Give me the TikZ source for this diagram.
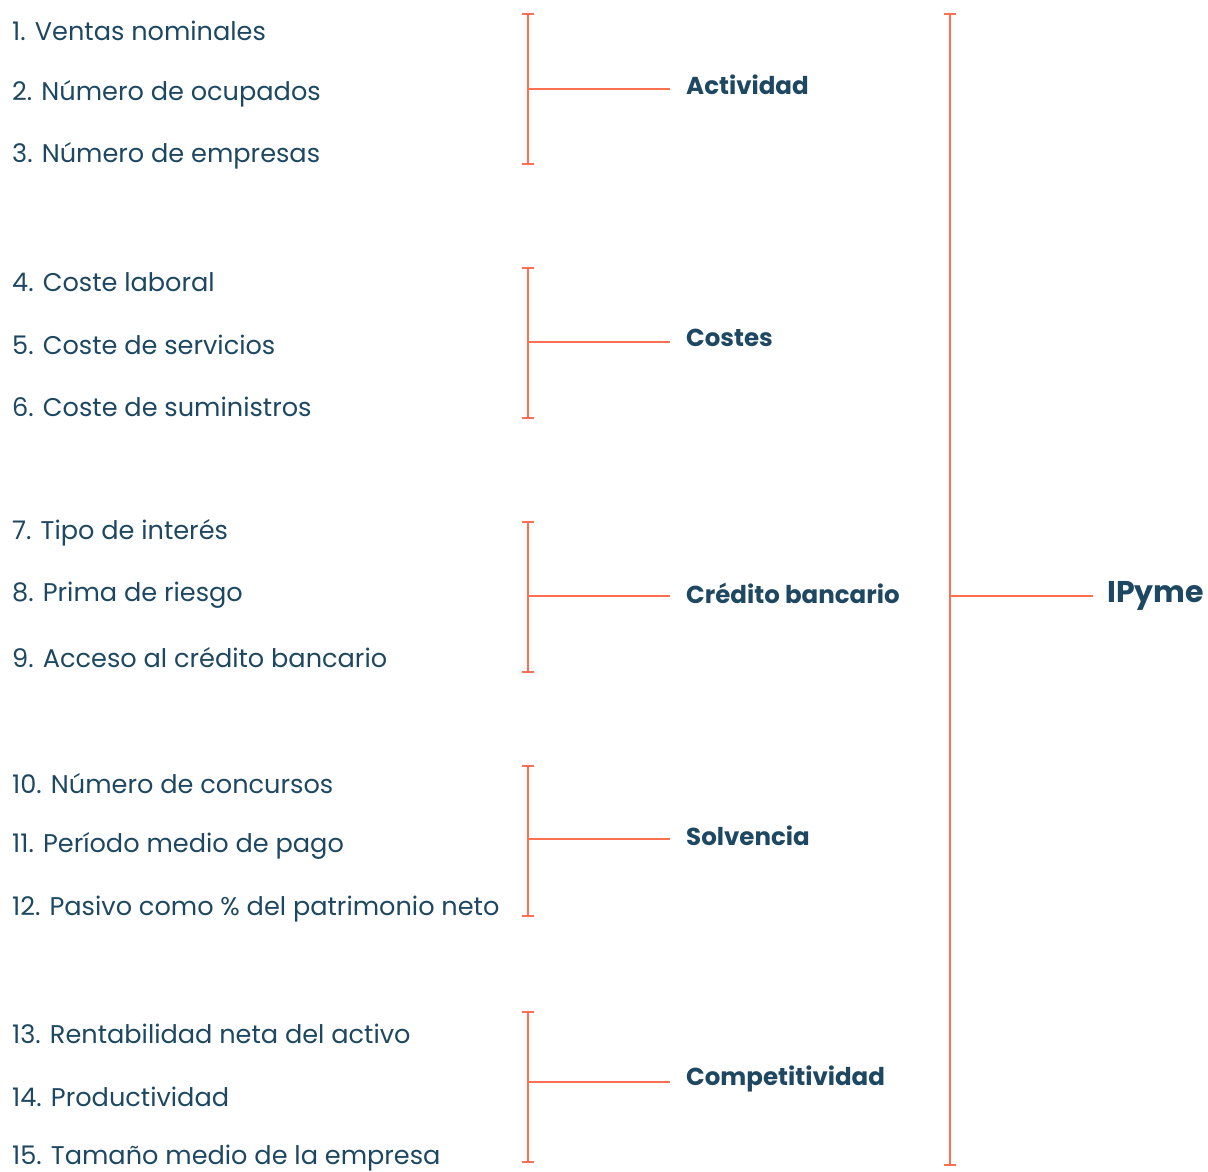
\documentclass[tikz,border=0pt]{standalone}
\usepackage{fontspec}
\setmainfont{Poppins}
\definecolor{orng}{HTML}{FF7052}
\definecolor{navy}{HTML}{1E4862}
\begin{document}
\begin{tikzpicture}[x=1pt,y=-1pt,
  item/.style={anchor=west,inner sep=0pt,text=navy,font=\fontsize{25.6}{30}\selectfont,yshift=-2pt},
  grp/.style={anchor=west,inner sep=0pt,text=navy,font=\fontsize{24.5}{28}\selectfont\bfseries},
  topl/.style={anchor=west,inner sep=0pt,text=navy,font=\fontsize{30}{34}\selectfont\bfseries,yshift=-2pt},
  brk/.style={draw=orng,line width=2.8pt},
  endbar/.style={draw=orng,line width=2.4pt}]
\useasboundingbox (0,0) rectangle (1208,1171);
% items
\node[item] (i1) at (12,29) {1. Ventas nominales};
\node[item] (i2) at (12,92) {2. Número de ocupados};
\node[item] (i3) at (12,154) {3. Número de empresas};
\node[item] (i4) at (12,280) {4. Coste laboral};
\node[item] (i5) at (12,343) {5. Coste de servicios};
\node[item] (i6) at (12,405) {6. Coste de suministros};
\node[item] (i7) at (12,531) {7. Tipo de interés};
\node[item] (i8) at (12,593) {8. Prima de riesgo};
\node[item] (i9) at (12,656) {9. Acceso al crédito bancario};
\node[item] (i10) at (12,782) {10. Número de concursos};
\node[item] (i11) at (12,844) {11. Período medio de pago};
\node[item] (i12) at (12,907) {12. Pasivo como \% del patrimonio neto};
\node[item] (i13) at (12,1032) {13. Rentabilidad neta del activo};
\node[item] (i14) at (12,1095) {14. Productividad};
\node[item] (i15) at (12,1156) {15. Tamaño medio de la empresa};
% group labels
\node[grp] (g1) at (686,85) {Actividad};
\node[grp] (g2) at (686,338) {Costes};
\node[grp] (g3) at (686,593) {Crédito bancario};
\node[grp] (g4) at (686,836) {Solvencia};
\node[grp] (g5) at (686,1079) {Competitividad};
\node[topl] (ip) at (1107,594) {IPyme};
% group brackets
\foreach \t/\b/\m/\g in {14/164/89/g1, 268/418/342/g2, 522/672/596/g3, 766/916/839/g4, 1012/1162/1082/g5}{
  \coordinate (t\g) at (528,\t);
  \coordinate (b\g) at (528,\b);
  \coordinate (m\g) at (528,\m);
  \coordinate (e\g) at (670,\m);
  \draw[brk] (t\g) -- (b\g);
  \draw[endbar] ([xshift=-6pt]t\g) -- ([xshift=6pt]t\g);
  \draw[endbar] ([xshift=-6pt]b\g) -- ([xshift=6pt]b\g);
  \draw[brk] (m\g) -- (e\g);
}
% main bracket
\coordinate (T) at (950,14);
\coordinate (B) at (950,1165);
\coordinate (M) at (950,596);
\coordinate (E) at (1093,596);
\draw[brk] (T) -- (B);
\draw[endbar] ([xshift=-6pt]T) -- ([xshift=6pt]T);
\draw[endbar] ([xshift=-6pt]B) -- ([xshift=6pt]B);
\draw[brk] (M) -- (E);
\end{tikzpicture}
\end{document}
